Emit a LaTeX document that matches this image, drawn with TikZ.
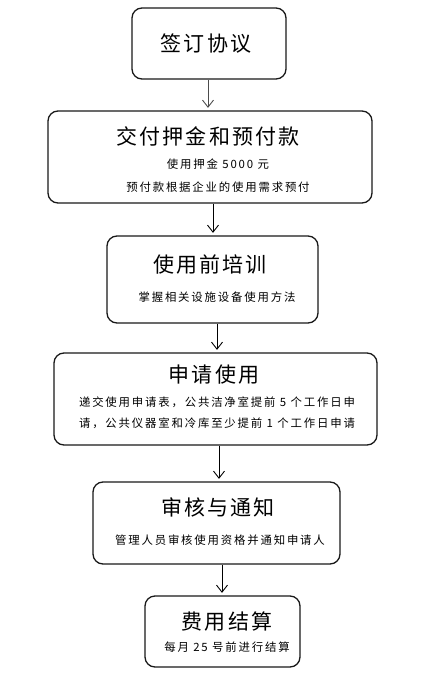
\documentclass[tikz,border=0pt]{standalone}
\usepackage{fontspec}
\setmainfont{Noto Sans CJK SC}
\newfontfamily\titlefont[LetterSpace=10]{Noto Sans CJK SC}
\newfontfamily\subfont[LetterSpace=16]{Noto Sans CJK SC}
\usetikzlibrary{arrows.meta}
\tikzset{
  box/.style={draw=black!90,line width=1.3pt,rounded corners=10pt,inner sep=0pt},
  title/.style={font=\titlefont\fontsize{21}{24}\selectfont,inner sep=0pt},
  sub/.style={font=\subfont\fontsize{11.4}{21}\selectfont,align=center,inner sep=0pt},
  arr/.style={-{Straight Barb[length=7pt,width=11pt]},line width=0.9pt,shorten >=2.5pt}
}
\begin{document}
\begin{tikzpicture}[x=1pt,y=-1pt]
  \useasboundingbox (0,0) rectangle (423,693);
  \node[box,minimum width=154pt,minimum height=71pt] (b1) at (209,43.5) {};
  \node[box,minimum width=324pt,minimum height=92pt] (b2) at (210,157) {};
  \node[box,minimum width=211pt,minimum height=87pt] (b3) at (212.5,279.5) {};
  \node[box,minimum width=323pt,minimum height=92pt] (b4) at (215.5,399) {};
  \node[box,minimum width=247pt,minimum height=82pt] (b5) at (216.5,523) {};
  \node[box,minimum width=155pt,minimum height=71pt] (b6) at (222.5,631.5) {};
  \node[title] (t1) at (206,44) {签订协议};
  \node[title] (t2) at (208,136) {交付押金和预付款};
  \node[sub,font=\subfont\fontsize{11.4}{23}\selectfont] (s2) at (218,175.5) {使用押金 5000 元\\预付款根据企业的使用需求预付};
  \node[title] (t3) at (210,265) {使用前培训};
  \node[sub] (s3) at (217,297) {掌握相关设施设备使用方法};
  \node[title] (t4) at (214,375) {申请使用};
  \node[sub] (s4) at (217,412.5) {递交使用申请表，公共洁净室提前 5 个工作日申\\请，公共仪器室和冷库至少提前 1 个工作日申请};
  \node[title] (t5) at (218,507) {审核与通知};
  \node[sub] (s5) at (220,540) {管理人员审核使用资格并通知申请人};
  \node[title] (t6) at (227,622) {费用结算};
  \node[sub] (s6) at (227,647) {每月 25 号前进行结算};
  \draw[arr,draw=black!70] ([xshift=-1pt]b1.south) -- ([xshift=-1pt]b1.south |- b2.north);
  \draw[arr] ([xshift=3pt]b2.south) -- ([xshift=3pt]b2.south |- b3.north);
  \draw[arr] ([xshift=4.5pt]b3.south) -- ([xshift=4.5pt]b3.south |- b4.north);
  \draw[arr] ([xshift=3.5pt]b4.south) -- ([xshift=3.5pt]b4.south |- b5.north);
  \draw[arr] ([xshift=5.5pt]b5.south) -- ([xshift=5.5pt]b5.south |- b6.north);
\end{tikzpicture}
\end{document}
